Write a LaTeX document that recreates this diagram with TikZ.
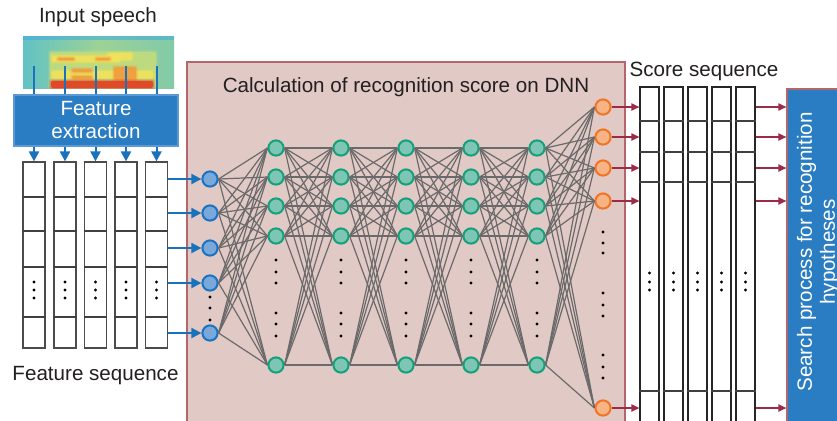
\documentclass[tikz,border=0pt]{standalone}
\usepackage{fontspec}
\setmainfont{Liberation Sans}
\usepackage{xcolor}
\usetikzlibrary{arrows.meta,positioning}

\definecolor{dnnfill}{HTML}{E1C9C6}
\definecolor{dnnedge}{HTML}{B4666D}
\definecolor{boxblue}{HTML}{2A7DC2}
\definecolor{boxedge}{HTML}{5B9BD5}
\definecolor{arrblue}{HTML}{1A72BC}
\definecolor{arrred}{HTML}{9B2B47}
\definecolor{linkgray}{HTML}{6A6A6A}
\definecolor{inedge}{HTML}{1A72C0}
\definecolor{infill}{HTML}{7BA8DB}
\definecolor{hidedge}{HTML}{13A07B}
\definecolor{hidfill}{HTML}{7DC6B4}
\definecolor{outedge}{HTML}{F07424}
\definecolor{outfill}{HTML}{F7B383}
\definecolor{txtgray}{HTML}{231F20}
% spectrogram colours
\definecolor{specl}{HTML}{62C2C4}
\definecolor{specm}{HTML}{9CD296}
\definecolor{specr}{HTML}{82CAA8}
\definecolor{spectop}{HTML}{45AEDB}
\definecolor{specgrn}{HTML}{C4DC7C}
\definecolor{specyel}{HTML}{F3E25A}
\definecolor{specorg}{HTML}{F09A3C}
\definecolor{specred}{HTML}{E4381E}

\begin{document}
\begin{tikzpicture}[x=0.5pt,y=-0.5pt,
    font=\fontsize{10.3}{11.5}\selectfont, text=txtgray,
    lbl/.style={inner sep=0pt},
    neuron/.style={circle,line width=1pt,minimum size=7.6pt,inner sep=0pt},
    innode/.style={neuron,draw=inedge,fill=infill},
    hidnode/.style={neuron,draw=hidedge,fill=hidfill},
    outnode/.style={neuron,draw=outedge,fill=outfill},
    link/.style={linkgray,line width=0.6pt},
    featcol/.style={draw=black!70,fill=white,line width=0.6pt,minimum width=11pt,minimum height=93pt,inner sep=0pt},
    scorecol/.style={draw=black!85,fill=white,line width=0.6pt,minimum width=9.5pt,minimum height=176.5pt,inner sep=0pt},
    celldiv/.style={black!75,line width=0.6pt},
    blarr/.style={arrblue,line width=1pt,-{Triangle[length=5pt,width=5pt]}},
    rdarr/.style={arrred,line width=0.7pt,-{Triangle[length=4pt,width=3.6pt]}},
    dot/.style={fill=black}]
  \useasboundingbox (0,0) rectangle (837,420);
  \clip (0,0) rectangle (837,420);

  % DNN panel
  \node[draw=dnnedge,fill=dnnfill,line width=0.75pt,minimum width=219pt,minimum height=184pt] (dnn) at (406,246) {};
  \node[lbl,below=8pt of dnn.north] (dnntitle) {Calculation of recognition score on DNN};

  % spectrogram, soft blobs drawn in three passes
  \begin{scope}
    \clip (23,36) rectangle (174,88);
    \shade[left color=specl,right color=specr,middle color=specm] (23,36) rectangle (174,88);
    \fill[spectop,opacity=.6] (23,36) rectangle (174,40);
    \foreach \c/\xa/\ya/\xb/\yb in {specgrn/50/52/156/88, specyel/52/56/120/62,
        specyel/108/53/132/60, specorg/58/58/74/60, specorg/96/58/110/60,
        specyel/52/71/153/78, specorg/72/69/92/72, specorg/72/76/92/79,
        specorg/114/67/136/80, specred/51/81/153/88}
      \foreach \e/\o in {2/.2,1/.3,0/.8}
        \fill[\c,opacity=\o,rounded corners=1pt] (\xa-\e,\ya-\e) rectangle (\xb+\e,\yb+\e);
  \end{scope}
  \node[lbl,above=4.5pt of {(98,36)}] (speechlbl) {Input speech};

  \node[draw=boxedge,fill=boxblue,line width=0.8pt,minimum width=82pt,minimum height=24.5pt,align=center,text=white] (fe) at (96,120.5) {Feature\\extraction};

  % feature sequence
  \foreach \i/\x in {1/34,2/65,3/95.5,4/126,5/156.5} {
    \node[featcol] (fc\i) at (\x,255) {};
    \foreach \y in {197,231,267,317}
      \draw[celldiv] (fc\i.west |- 0,\y) -- (fc\i.east |- 0,\y);
    \foreach \y in {282,290,298}
      \fill[dot] (fc\i |- 0,\y) circle (0.8pt);
    \draw[arrblue,line width=1pt] (fc\i |- 0,66) -- (fc\i |- fe.north);
    \draw[blarr] (fe.south -| fc\i) -- (fc\i.north);
  }
  \node[lbl,below=8.5pt of fc3.south] (featlbl) {Feature sequence};

  % layers
  \foreach \i/\y in {0/179,1/213,2/248,3/283,4/333}
    \node[innode] (in\i) at (210,\y) {};
  \foreach \l/\x in {1/276,2/341,3/406,4/471,5/537}
    \foreach \i/\y in {0/148,1/177,2/206,3/236,4/365}
      \node[hidnode] (h\l-\i) at (\x,\y) {};
  \foreach \i/\y in {0/107,1/137,2/168,3/201,4/408}
    \node[outnode] (out\i) at (603,\y) {};

  % weights
  \foreach \i in {0,...,4}
    \foreach \j in {0,...,4} {
      \draw[link] (in\i.east) -- (h1-\j.west);
      \draw[link] (h5-\i.east) -- (out\j.west);
      \foreach \l in {1,...,4} {
        \pgfmathtruncatemacro\m{\l+1}
        \draw[link] (h\l-\i.east) -- (h\m-\j.west);
      }
    }

  % elided units
  \foreach \y in {297,308,320}
    \fill[dot] (210,\y) circle (0.8pt);
  \foreach \x in {276,341,406,471,537}
    \foreach \y in {260,272,283,313,324,336}
      \fill[dot] (\x,\y) circle (0.8pt);
  \foreach \y in {232,243,253,293,305,316,355,367,378}
    \fill[dot] (603,\y) circle (0.8pt);

  \foreach \i in {0,...,4}
    \draw[blarr] (fc5.east |- in\i) -- (in\i);

  % score sequence
  \foreach \i/\x in {1/649.5,2/673.5,3/697.5,4/721.5,5/745.5} {
    \node[scorecol] (sc\i) at (\x,263.5) {};
    \foreach \y in {121,152,182,391}
      \draw[celldiv] (sc\i.west |- 0,\y) -- (sc\i.east |- 0,\y);
    \foreach \y in {273,282,290}
      \fill[dot] (sc\i |- 0,\y) circle (0.8pt);
  }
  \node[lbl] (scorelbl) at (704,71) {Score sequence};

  % search
  \node[draw=dnnedge,fill=boxblue,line width=0.6pt,minimum width=43pt,minimum height=171pt] (search) at (830,260) {};
  \node[lbl,rotate=90,align=center,text=white] (searchtxt) at (818,252) {Search process for recognition\\hypotheses};

  \foreach \i in {0,...,4} {
    \draw[rdarr] (out\i) -- (sc1.west |- out\i);
    \draw[rdarr] (sc5.east |- out\i) -- (search.west |- out\i);
  }
\end{tikzpicture}
\end{document}
